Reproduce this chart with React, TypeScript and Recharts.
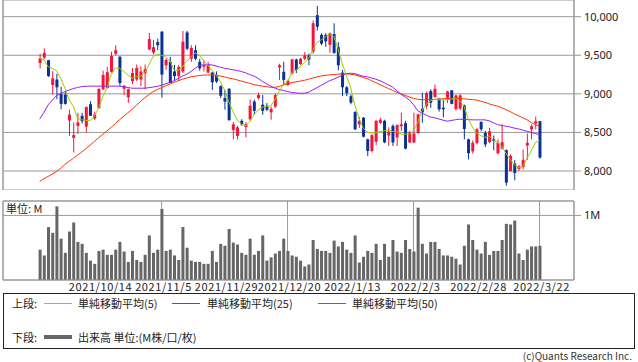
import { Bar, CartesianGrid, ComposedChart, Line, ReferenceLine, XAxis, YAxis } from "recharts"

const opens = [
  9400, 9470, 9435, 9115, 9185, 9000, 8990, 8655, 8430, 8585, 8715, 8575, 8865, 8680, 8815, 9060, 9075, 9285, 9520, 9480,
  9065, 8955, 9165, 9185, 9185, 9265, 9575, 9535, 9670, 9805, 9370, 9415, 9290, 9230, 9290, 9795, 9455, 9565, 9415, 9350,
  9275, 9275, 9245, 9100, 8945, 9065, 8530, 8455, 8650, 8570, 8670, 8900, 8945, 8860, 8845, 8760, 8835, 9345, 9285, 9115,
  9265, 9445, 9385, 9455, 9500, 9545, 10020, 9765, 9765, 9635, 9775, 9605, 9275, 9085, 8970, 8765, 8605, 8690, 8410, 8260,
  8380, 8625, 8650, 8460, 8585, 8435, 8580, 8620, 8370, 8370, 8490, 8805, 8840, 9035, 8960, 8935, 8820, 8950, 9045, 8805,
  8810, 8850, 8410, 8255, 8365, 8635, 8495, 8375, 8410, 8230, 8290, 8270, 8000, 8095, 8025, 8050, 8330, 8540, 8615, 8645,
]
const highs = [
  9520, 9590, 9440, 9295, 9260, 9090, 9030, 8795, 8630, 8755, 8755, 8835, 8905, 8770, 9070, 9300, 9350, 9545, 9630, 9490,
  9115, 9070, 9335, 9380, 9355, 9380, 9790, 9700, 9715, 9815, 9460, 9480, 9375, 9375, 9815, 9815, 9630, 9630, 9455, 9435,
  9415, 9285, 9290, 9110, 9050, 9075, 8635, 8585, 8670, 8635, 8925, 8925, 9015, 8985, 8880, 8835, 9005, 9390, 9415, 9185,
  9455, 9455, 9465, 9540, 9520, 9950, 10140, 9785, 9785, 9795, 9915, 9670, 9310, 9100, 8990, 8775, 8700, 8700, 8420, 8475,
  8665, 8690, 8665, 8565, 8605, 8605, 8755, 8650, 8520, 8755, 8745, 9015, 9030, 9060, 9120, 8945, 8925, 9040, 9050, 8990,
  8995, 8860, 8420, 8395, 8560, 8645, 8520, 8560, 8460, 8410, 8605, 8280, 8215, 8145, 8080, 8280, 8485, 8605, 8705, 8650,
]
const lows = [
  9330, 9450, 9220, 8990, 8930, 8800, 8860, 8455, 8240, 8480, 8615, 8500, 8715, 8660, 8810, 9050, 9070, 9275, 9500, 9100,
  8985, 8880, 9125, 9165, 9100, 9060, 9565, 9510, 9565, 8950, 9310, 9140, 9165, 9165, 9270, 9565, 9415, 9435, 9300, 9290,
  9270, 9050, 9140, 8945, 8795, 8650, 8410, 8410, 8585, 8435, 8650, 8730, 8925, 8730, 8775, 8665, 8815, 9180, 9115, 9100,
  9250, 9270, 9375, 9435, 9370, 9520, 9820, 9630, 9610, 9535, 9520, 9305, 8970, 8970, 8865, 8530, 8560, 8435, 8195, 8240,
  8335, 8610, 8360, 8325, 8325, 8325, 8520, 8280, 8360, 8360, 8485, 8625, 8805, 8820, 8950, 8770, 8695, 8880, 8865, 8780,
  8790, 8410, 8150, 8225, 8345, 8515, 8310, 8360, 8270, 8215, 8280, 7810, 7990, 7880, 8000, 8020, 8145, 8410, 8540, 8160,
]
const closes = [
  9460, 9530, 9230, 9200, 9085, 8870, 8870, 8730, 8465, 8630, 8645, 8830, 8715, 8730, 9065, 9245, 9280, 9490, 9565, 9140,
  9105, 9060, 9270, 9335, 9290, 9320, 9710, 9605, 9630, 9250, 9440, 9140, 9230, 9350, 9675, 9585, 9595, 9455, 9330, 9370,
  9370, 9150, 9160, 8975, 8900, 8660, 8605, 8565, 8605, 8605, 8845, 8780, 8985, 8780, 8795, 8805, 8985, 9370, 9180, 9170,
  9445, 9310, 9455, 9500, 9445, 9915, 9870, 9650, 9680, 9785, 9530, 9370, 9085, 9010, 8885, 8540, 8650, 8445, 8260, 8465,
  8650, 8665, 8370, 8510, 8370, 8595, 8605, 8290, 8500, 8485, 8735, 8760, 9010, 8885, 9065, 8800, 8800, 9030, 8870, 8980,
  8980, 8545, 8230, 8365, 8540, 8540, 8345, 8515, 8390, 8365, 8375, 7850, 8195, 7975, 8060, 8145, 8365, 8580, 8645, 8175,
]
// 出来高 (M)
const volumes = [
  0.47, 0.38, 0.82, 0.73, 1.14, 0.64, 0.42, 0.75, 0.89, 0.59, 0.56, 0.42, 0.3, 0.25, 0.45, 0.47, 0.39, 0.39, 0.47, 0.59,
  0.44, 0.28, 0.45, 0.31, 0.28, 0.39, 0.69, 0.42, 0.47, 1.1, 0.45, 0.47, 0.38, 0.31, 0.82, 0.5, 0.3, 0.28, 0.28, 0.25,
  0.25, 0.45, 0.28, 0.56, 0.53, 0.79, 0.58, 0.55, 0.42, 0.39, 0.64, 0.39, 0.45, 0.69, 0.3, 0.35, 0.41, 0.45, 0.64, 0.45,
  0.38, 0.36, 0.3, 0.21, 0.24, 0.62, 0.48, 0.45, 0.45, 0.42, 0.61, 0.52, 0.59, 0.47, 0.42, 0.69, 0.27, 0.36, 0.45, 0.42,
  0.56, 0.31, 0.56, 0.36, 0.62, 0.44, 0.42, 0.62, 0.48, 0.44, 1.12, 0.56, 0.41, 0.59, 0.59, 0.48, 0.38, 0.38, 0.36, 0.33,
  0.24, 0.53, 0.86, 0.62, 0.47, 0.41, 0.59, 0.39, 0.45, 0.45, 0.62, 0.87, 0.86, 0.92, 0.41, 0.31, 0.47, 0.52, 0.52, 0.53,
]
const ma5 = [
  9462, 9440, 9353, 9330, 9300, 9200, 9073, 8922, 8836, 8685, 8663, 8655, 8655, 8706, 8814, 8964, 9073, 9246, 9332, 9332,
  9289, 9246, 9203, 9224, 9224, 9276, 9375, 9483, 9513, 9500, 9480, 9427, 9307, 9307, 9350, 9423, 9480, 9530, 9500, 9436,
  9370, 9307, 9243, 9157, 9050, 8900, 8770, 8663, 8612, 8586, 8641, 8727, 8792, 8826, 8835, 8843, 8922, 9030, 9116, 9159,
  9276, 9307, 9350, 9401, 9457, 9565, 9665, 9700, 9737, 9780, 9745, 9586, 9393, 9243, 9084, 8857, 8685, 8556, 8500, 8491,
  8500, 8509, 8521, 8530, 8513, 8509, 8478, 8478, 8478, 8521, 8629, 8780, 8866, 8909, 8930, 8922, 8922, 8922, 8930, 8943,
  8909, 8840, 8680, 8570, 8490, 8460, 8435, 8455, 8400, 8370, 8320, 8230, 8150, 8080, 8040, 8060, 8160, 8260, 8370, 8395,
]
const ma25 = [
  8672, 8760, 8857, 8920, 8975, 9005, 9030, 9050, 9068, 9082, 9094, 9098, 9100, 9100, 9100, 9100, 9100, 9100, 9100, 9100,
  9092, 9082, 9073, 9073, 9073, 9073, 9080, 9088, 9098, 9110, 9130, 9150, 9170, 9200, 9230, 9255, 9290, 9330, 9370, 9375,
  9378, 9375, 9360, 9345, 9332, 9322, 9312, 9302, 9290, 9272, 9250, 9230, 9200, 9160, 9130, 9100, 9075, 9055, 9045, 9030,
  9018, 9012, 9008, 9008, 9020, 9050, 9080, 9110, 9140, 9170, 9190, 9215, 9240, 9260, 9267, 9262, 9245, 9228, 9220, 9205,
  9190, 9170, 9145, 9115, 9090, 9040, 8995, 8960, 8921, 8860, 8780, 8750, 8725, 8700, 8690, 8675, 8660, 8645, 8655, 8665,
  8672, 8668, 8665, 8663, 8663, 8663, 8663, 8650, 8625, 8600, 8590, 8580, 8570, 8556, 8545, 8530, 8515, 8500, 8485, 8470,
]
const ma50 = [
  7865, 7900, 7930, 7960, 7995, 8035, 8085, 8125, 8165, 8205, 8245, 8290, 8335, 8383, 8430, 8475, 8520, 8565, 8615, 8665,
  8710, 8755, 8800, 8850, 8900, 8950, 8990, 9030, 9055, 9080, 9105, 9128, 9150, 9170, 9190, 9205, 9220, 9230, 9238, 9242,
  9245, 9245, 9240, 9230, 9220, 9205, 9195, 9180, 9165, 9150, 9135, 9120, 9110, 9100, 9092, 9085, 9085, 9095, 9115, 9130,
  9145, 9155, 9165, 9175, 9190, 9205, 9220, 9232, 9240, 9246, 9250, 9255, 9258, 9259, 9255, 9245, 9230, 9212, 9195, 9170,
  9145, 9120, 9095, 9070, 9045, 9020, 9000, 8980, 8960, 8940, 8930, 8925, 8925, 8925, 8928, 8932, 8936, 8940, 8940, 8940,
  8940, 8935, 8930, 8926, 8920, 8905, 8890, 8870, 8855, 8840, 8820, 8795, 8770, 8740, 8715, 8690, 8665, 8630, 8600, 8577,
]
const tickIdx = [15, 30, 45, 60, 75, 90, 105, 120]
const tickLabels = ["2021/10/14", "2021/11/5", "2021/11/29", "2021/12/20", "2022/1/13", "2022/2/3", "2022/2/28", "2022/3/22"]
const priceTicks = [8000, 8500, 9000, 9500, 10000]

const data = closes.map((c, k) => ({
  i: k + 1,
  o: opens[k],
  h: highs[k],
  l: lows[k],
  c,
  range: [lows[k], highs[k]],
  v: volumes[k],
  ma5: ma5[k],
  ma25: ma25[k],
  ma50: ma50[k],
}))

const X_DOMAIN: [number, number] = [-7.74, 128.2]
const P_DOMAIN: [number, number] = [7754, 10216]
const V_DOMAIN: [number, number] = [0, 1.223]

const RED = "#f5143c"
const BLUE = "#0a3296"
const GRID = "#999999"
const MA5_COLOR = "#9acd00"
const MA25_COLOR = "#9b1cf5"
const MA50_COLOR = "#ff3300"
const JP = "'Noto Sans CJK JP', 'Noto Sans', sans-serif"

function Candle(props: any) {
  const { x, y, width, height, payload } = props
  if (!payload) return null
  const top = Math.min(y, y + height)
  const span = Math.abs(height)
  const { o, h, l, c } = payload
  const toY = (v: number) => (h === l ? top : top + ((h - v) / (h - l)) * span)
  const bodyTop = toY(Math.max(o, c))
  const bodyBot = toY(Math.min(o, c))
  const color = c >= o ? RED : BLUE
  const cx = x + width / 2
  return (
    <g>
      <line x1={cx} x2={cx} y1={top} y2={top + span} stroke={color} strokeWidth={1} />
      <rect x={x} y={bodyTop} width={width} height={Math.max(1, bodyBot - bodyTop)} fill={color} />
    </g>
  )
}

// 凡例の線見本
function Swatch({ left, top, color, thick }: { left: number; top: number; color: string; thick?: boolean }) {
  const h = thick ? 4 : 1
  return (
    <div style={{ position: "absolute", left, top: top - h / 2, width: 28, height: h, background: color }} />
  )
}

const legendText = { position: "absolute" as const, fontSize: 11, color: "#222", lineHeight: "14px", whiteSpace: "nowrap" as const }

export default function App() {
  return (
    <div style={{ position: "absolute", left: 0, top: 0, width: 638, height: 362, background: "#fff", fontFamily: JP }}>
      <div style={{ position: "absolute", left: 0, top: 0 }}>
        <ComposedChart width={638} height={190} data={data} margin={{ top: 0, right: 0, bottom: 0, left: 3 }}>
          <CartesianGrid stroke={GRID} strokeWidth={1} />
          <XAxis
            type="number"
            dataKey="i"
            domain={X_DOMAIN}
            ticks={tickIdx}
            allowDataOverflow
            height={0}
            tick={false}
            tickLine={false}
            stroke={GRID}
          />
          <YAxis
            orientation="right"
            domain={P_DOMAIN}
            ticks={priceTicks}
            allowDataOverflow
            width={64}
            stroke={GRID}
            tickSize={7}
            tickMargin={3}
            tick={{ fill: "#222", fontSize: 11, fontFamily: "'Noto Sans', sans-serif" }}
            tickFormatter={(v: number) => v.toLocaleString("en-US")}
          />
          <ReferenceLine x={X_DOMAIN[0]} stroke={GRID} />
          <Bar dataKey="range" barSize={3} shape={(p: any) => <Candle {...p} />} isAnimationActive={false} />
          <Line dataKey="ma50" stroke={MA50_COLOR} strokeWidth={1} dot={false} isAnimationActive={false} />
          <Line dataKey="ma25" stroke={MA25_COLOR} strokeWidth={1} dot={false} isAnimationActive={false} />
          <Line dataKey="ma5" stroke={MA5_COLOR} strokeWidth={1} dot={false} isAnimationActive={false} />
        </ComposedChart>
      </div>

      <div style={{ position: "absolute", left: 0, top: 195 }}>
        <ComposedChart width={638} height={105} data={data} margin={{ top: 6, right: 0, bottom: 0, left: 3 }}>
          <CartesianGrid stroke={GRID} strokeWidth={1} />
          <XAxis
            type="number"
            dataKey="i"
            domain={X_DOMAIN}
            ticks={tickIdx}
            allowDataOverflow
            height={20}
            stroke={GRID}
            tickSize={0}
            tickMargin={3}
            tick={{ fill: "#222", fontSize: 11, fontFamily: JP, letterSpacing: 0.6, dx: 2 }}
            tickFormatter={(v: number) => tickLabels[tickIdx.indexOf(v)] ?? ""}
          />
          <YAxis
            orientation="right"
            domain={V_DOMAIN}
            ticks={[1]}
            allowDataOverflow
            width={64}
            stroke={GRID}
            tickSize={7}
            tickMargin={3}
            tick={{ fill: "#222", fontSize: 11, fontFamily: "'Noto Sans', sans-serif" }}
            tickFormatter={(v: number) => `${v}M`}
          />
          <ReferenceLine x={X_DOMAIN[0]} stroke={GRID} />
          <ReferenceLine y={V_DOMAIN[1]} stroke={GRID} />
          <Bar dataKey="v" barSize={3} fill="#666666" isAnimationActive={false} />
        </ComposedChart>
      </div>

      <div style={{ position: "absolute", left: 6, top: 202, fontSize: 11, color: "#222", background: "#fff", lineHeight: "13px" }}>
        単位: M
      </div>

      <div
        style={{
          position: "absolute",
          left: 3,
          top: 293,
          width: 630,
          height: 54,
          border: "1px solid #222",
        }}
      >
        <span style={{ ...legendText, left: 8, top: 2 }}>上段:</span>
        <Swatch left={40} top={9} color={MA5_COLOR} />
        <span style={{ ...legendText, left: 74, top: 2 }}>単純移動平均(5)</span>
        <Swatch left={168} top={9} color={MA25_COLOR} />
        <span style={{ ...legendText, left: 203, top: 2 }}>単純移動平均(25)</span>
        <Swatch left={314} top={9} color={MA50_COLOR} />
        <span style={{ ...legendText, left: 348, top: 2 }}>単純移動平均(50)</span>

        <span style={{ ...legendText, left: 8, top: 36 }}>下段:</span>
        <Swatch left={40} top={43} color="#666666" thick />
        <span style={{ ...legendText, left: 74, top: 36 }}>出来高 単位:(M株/口/枚)</span>
      </div>

      <div style={{ position: "absolute", right: 6, top: 350, fontSize: 10, color: "#333", lineHeight: "12px" }}>
        (c)Quants Research Inc.
      </div>
    </div>
  )
}
